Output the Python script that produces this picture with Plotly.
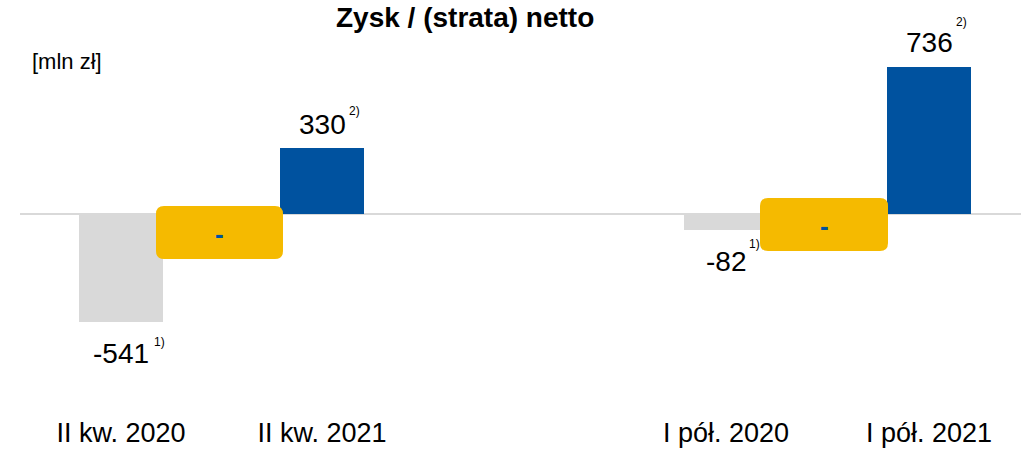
import plotly.graph_objects as go

# ---- data ----
categories = ["II kw. 2020", "II kw. 2021", "I pół. 2020", "I pół. 2021"]
values = [-541, 330, -82, 736]
footnotes = ["1)", "2)", "1)", "2)"]
change_labels = ["-", "-"]
title = "Zysk / (strata) netto"
unit_label = "[mln zł]"

# ---- layout / style ----
x_pos = [121, 322, 726, 929]
bar_colors = ["#D9D9D9", "#00529F", "#D9D9D9", "#00529F"]
bar_width = 84
FONT = "Liberation Sans, Arial, sans-serif"
W, H = 1021, 450
px_per_unit = 0.2

# change boxes: (x0, x1, y_top, y_bottom) in data units
box_x = [(156, 283), (760, 888)]
box_y = [(40, -225), (80, -185)]
box_color = "#F5BA00"

fig = go.Figure()
fig.add_trace(go.Bar(
    x=x_pos, y=values, width=bar_width,
    marker=dict(color=bar_colors, line=dict(width=0)),
    hoverinfo="skip", showlegend=False,
))

annotations = []
sup_offsets = [(38, 11), (32, 13), (28, 17), (32, 21)]
for xp, v, fn, so in zip(x_pos, values, footnotes, sup_offsets):
    if v >= 0:
        ys = 24
    else:
        ys = -31
    annotations.append(dict(
        x=xp, y=v, xref="x", yref="y", text=str(v), showarrow=False,
        yanchor="middle", xanchor="center", yshift=ys,
        font=dict(family=FONT, size=28, color="#000000"),
    ))
    annotations.append(dict(
        x=xp, y=v, xref="x", yref="y", text=fn, showarrow=False,
        yanchor="middle", xanchor="center", yshift=ys + so[1], xshift=so[0],
        font=dict(family=FONT, size=12, color="#000000"),
    ))


def rounded_rect(x0, x1, yt, yb, rx, ry):
    return (f"M {x0+rx},{yt} L {x1-rx},{yt} Q {x1},{yt} {x1},{yt-ry} "
            f"L {x1},{yb+ry} Q {x1},{yb} {x1-rx},{yb} "
            f"L {x0+rx},{yb} Q {x0},{yb} {x0},{yb+ry} "
            f"L {x0},{yt-ry} Q {x0},{yt} {x0+rx},{yt} Z")


shapes = [dict(type="line", xref="x", yref="y", x0=20, x1=1021, y0=0, y1=0,
               line=dict(color="#D9D9D9", width=2), layer="below")]
r_px = 8
for (x0, x1), (yt, yb), lab in zip(box_x, box_y, change_labels):
    shapes.append(dict(type="path", xref="x", yref="y",
                       path=rounded_rect(x0, x1, yt, yb, r_px, r_px / px_per_unit),
                       fillcolor=box_color, line=dict(width=0), layer="above"))
    annotations.append(dict(
        x=(x0 + x1) / 2, y=(yt + yb) / 2, xref="x", yref="y", text=f"<b>{lab}</b>",
        showarrow=False, xanchor="center", yanchor="middle", yshift=-1,
        font=dict(family=FONT, size=26, color="#00529F"),
    ))

annotations.append(dict(
    x=465, y=19, text=f"<b>{title}</b>",
    showarrow=False, xanchor="center", yanchor="middle",
    font=dict(family=FONT, size=28, color="#000000"),
))
annotations.append(dict(
    x=30, y=67, text=unit_label, showarrow=False, xanchor="left", yanchor="middle",
    font=dict(family=FONT, size=22, color="#000000"),
))

# convert pixel-positioned annotations (title / unit) to paper coords
for a in annotations[-2:]:
    a["x"] = a["x"] / W
    a["y"] = 1 - a["y"] / H
    a["xref"] = "paper"
    a["yref"] = "paper"

top_px, bottom_margin = 0, 36
zero_px = 214
plot_h = H - top_px - bottom_margin
y_top = (zero_px - top_px) / px_per_unit
y_bot = -(plot_h - (zero_px - top_px)) / px_per_unit

fig.update_layout(
    width=W, height=H,
    margin=dict(l=0, r=0, t=top_px, b=bottom_margin, pad=0, autoexpand=False),
    paper_bgcolor="white", plot_bgcolor="white",
    xaxis=dict(range=[0, W], tickvals=x_pos, ticktext=categories, automargin=False,
               showgrid=False, zeroline=False, showline=False, ticks="",
               tickfont=dict(family=FONT, size=27, color="#000000"), fixedrange=True),
    yaxis=dict(range=[y_bot, y_top], showgrid=False, zeroline=False, showline=False,
               showticklabels=False, fixedrange=True, automargin=False),
    shapes=shapes, annotations=annotations, bargap=0,
)

fig.write_html(
    "out.html",
    config={"displayModeBar": False},
    post_script="document.body.style.margin='0';document.body.style.padding='0';"
                "document.body.style.overflow='hidden';",
)
